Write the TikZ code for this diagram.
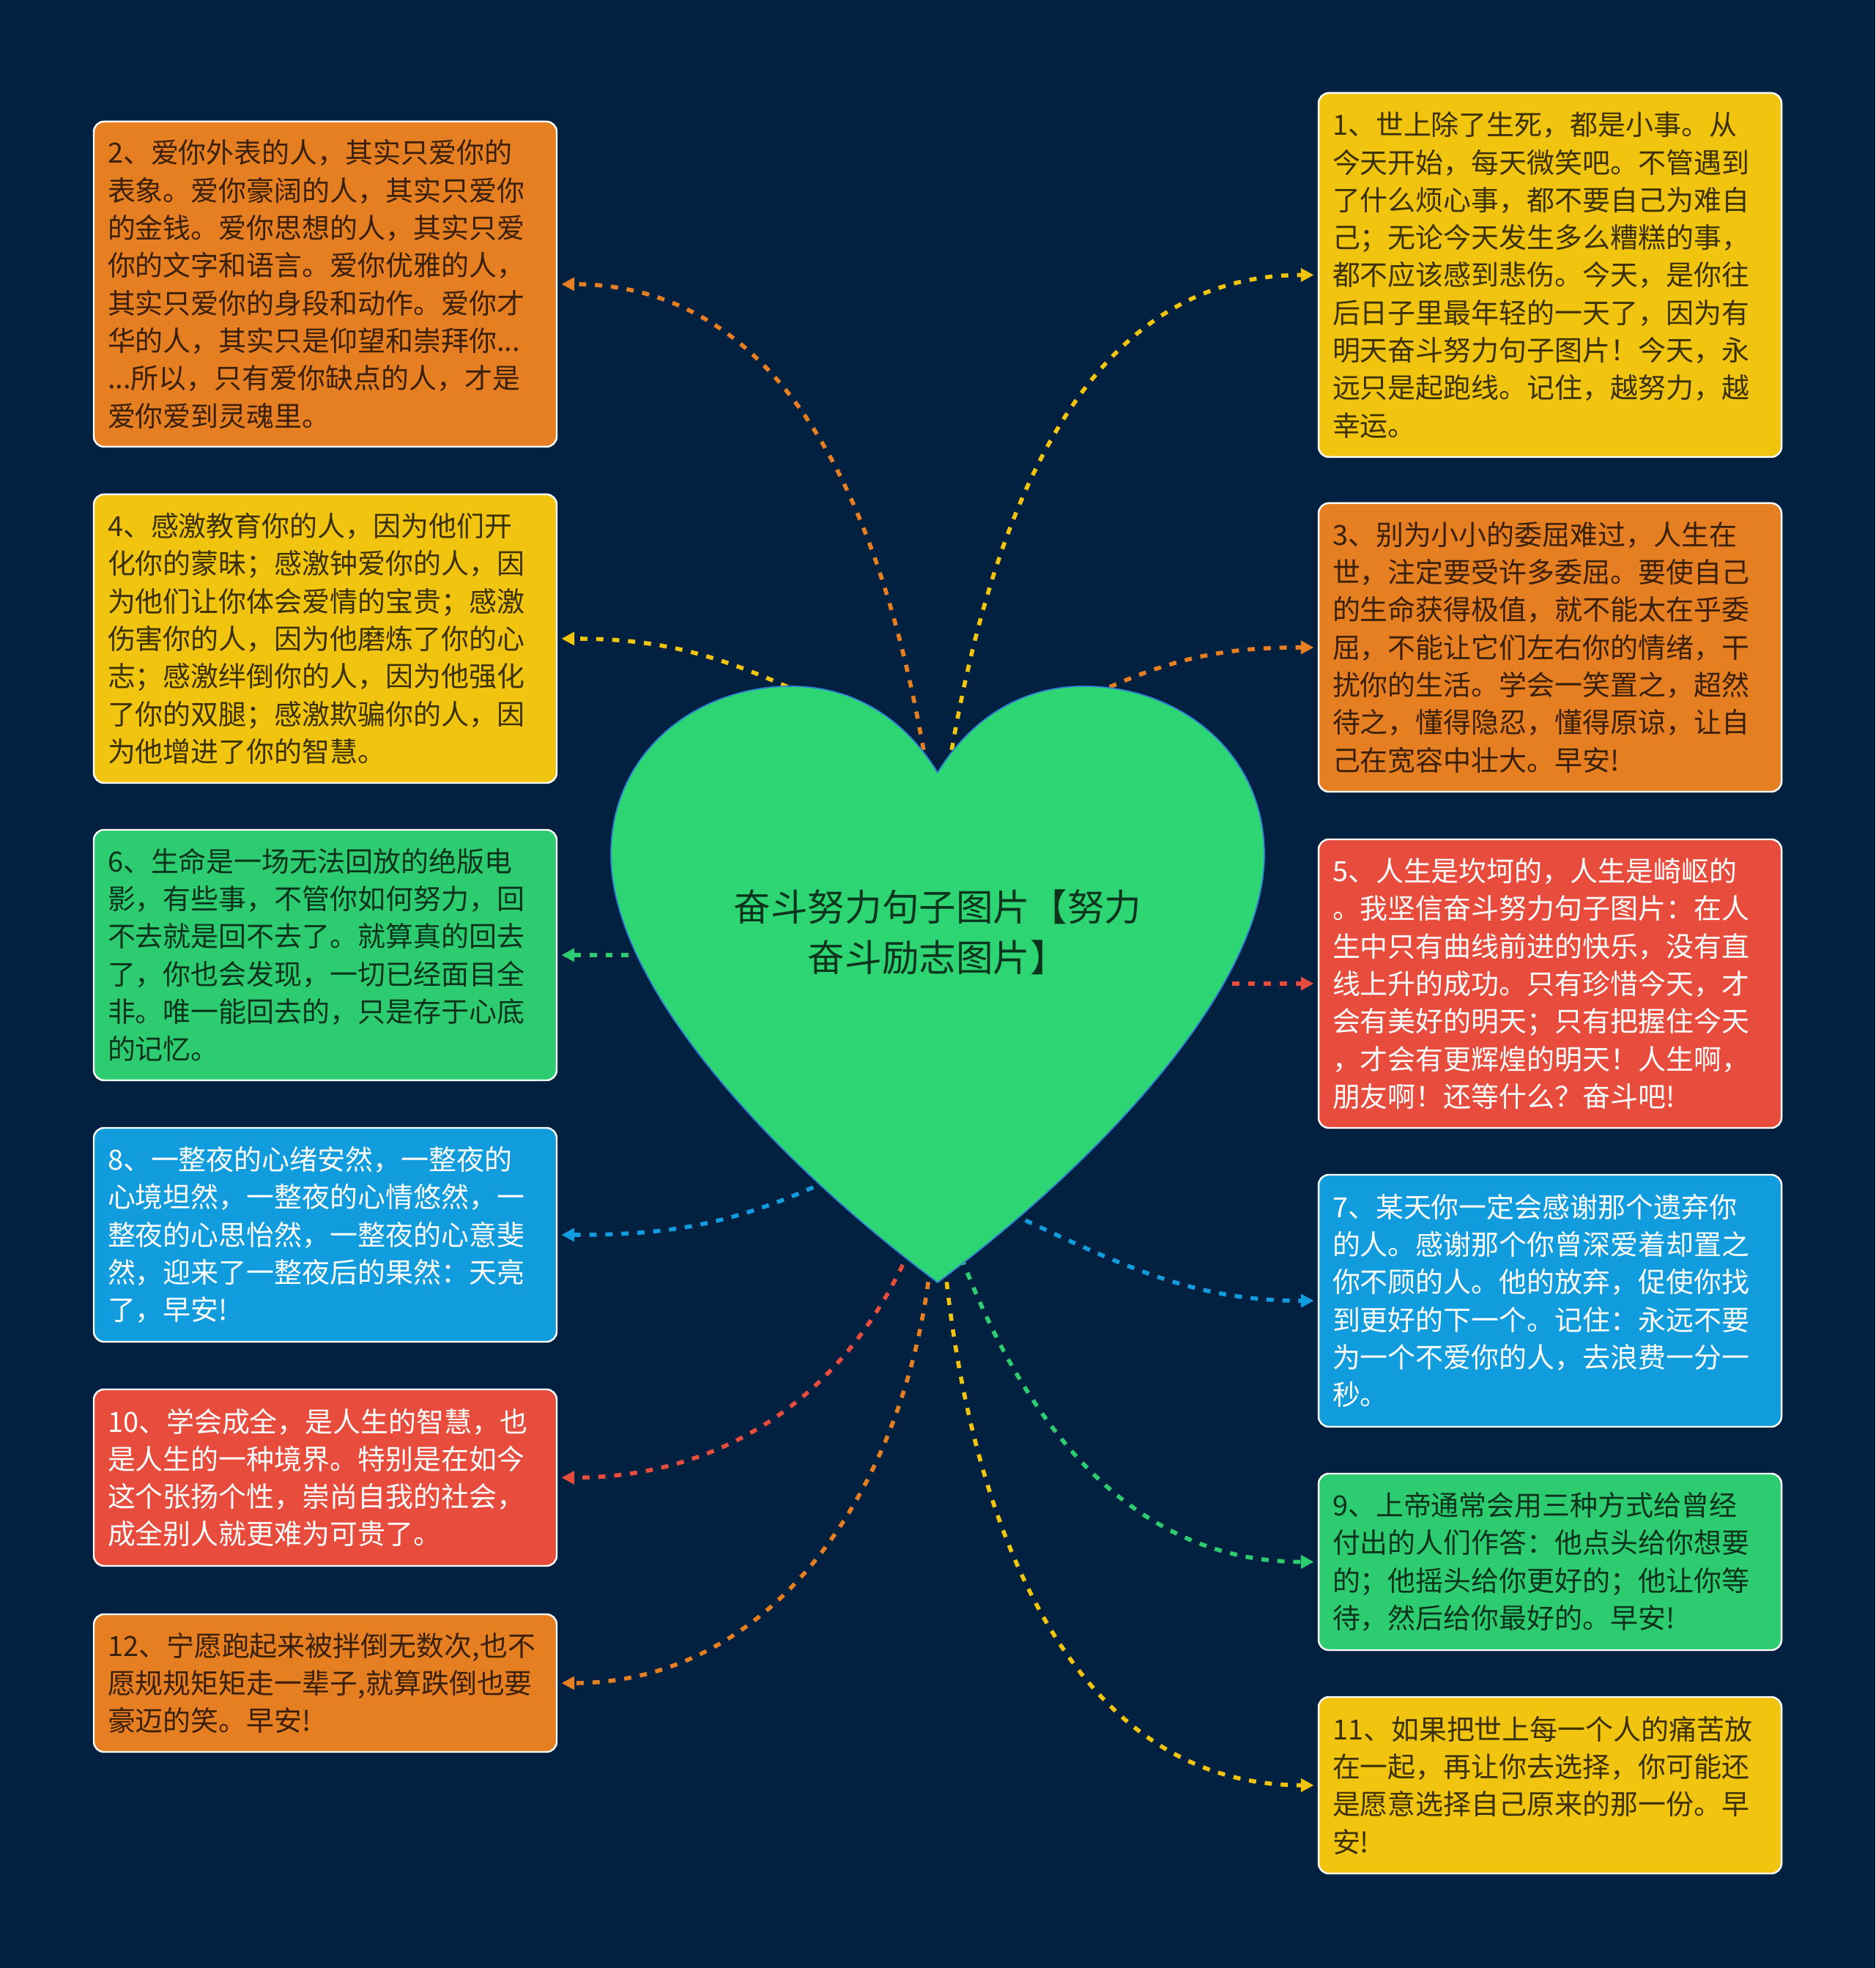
\documentclass[tikz,border=0pt]{standalone}
\usepackage{fontspec}
\usepackage{tikz}
\usetikzlibrary{arrows.meta}
\newfontfamily\cjk{Noto Sans CJK SC}

\definecolor{bgnavy}{RGB}{2,33,64}
\definecolor{cardorange}{RGB}{230,126,34}
\definecolor{cardyellow}{RGB}{241,196,15}
\definecolor{cardgreen}{RGB}{46,204,113}
\definecolor{cardred}{RGB}{231,76,60}
\definecolor{cardblue}{RGB}{16,156,221}
\definecolor{heartgreen}{RGB}{46,213,115}
\definecolor{heartedge}{RGB}{47,127,214}

\begin{document}
\begin{tikzpicture}
    \tikzset{card/.style  = {draw=white, line width=0.7pt, rounded corners=4pt,
        fill=#1, text=black!75!#1,
        inner xsep=0.19cm, text width=5.94cm, align=left,
        font=\cjk\fontsize{10.8pt}{14.6pt}\selectfont},
      link/.style   = {line width=1.6pt, dash pattern=on 2.8pt off 3.4pt,
        -{Triangle[length=5pt,width=5pt]}, shorten >=1.5pt},
      title/.style  = {align=center, text=black!75!heartgreen,
        font=\cjk\fontsize{14.4pt}{19.5pt}\selectfont}}
    
    \def\Lx{4.44};
    \def\Rx{21.16};
    
    % Background.
    \useasboundingbox (0,0) rectangle (25.6,26.87);
    \fill[bgnavy] (0,0) rectangle (25.6,26.87);
    
    % Draw the cards on the left.
    \node[card=cardorange, minimum height=4.44cm] (q2) at (\Lx,22.99)
      {2、爱你外表的人，其实只爱你的\\表象。爱你豪阔的人，其实只爱你\\的金钱。爱你思想的人，其实只爱\\你的文字和语言。爱你优雅的人，\\其实只爱你的身段和动作。爱你才\\华的人，其实只是仰望和崇拜你...\\...所以，只有爱你缺点的人，才是\\爱你爱到灵魂里。};
    \node[card=cardyellow, minimum height=3.94cm] (q4) at (\Lx,18.15)
      {4、感激教育你的人，因为他们开\\化你的蒙昧；感激钟爱你的人，因\\为他们让你体会爱情的宝贵；感激\\伤害你的人，因为他磨炼了你的心\\志；感激绊倒你的人，因为他强化\\了你的双腿；感激欺骗你的人，因\\为他增进了你的智慧。};
    \node[card=cardgreen, minimum height=3.42cm] (q6) at (\Lx,13.83)
      {6、生命是一场无法回放的绝版电\\影，有些事，不管你如何努力，回\\不去就是回不去了。就算真的回去\\了，你也会发现，一切已经面目全\\非。唯一能回去的，只是存于心底\\的记忆。};
    \node[card=cardblue, text=white, minimum height=2.92cm] (q8) at (\Lx,10.01)
      {8、一整夜的心绪安然，一整夜的\\心境坦然，一整夜的心情悠然，一\\整夜的心思怡然，一整夜的心意斐\\然，迎来了一整夜后的果然：天亮\\了，早安!};
    \node[card=cardred, text=white, minimum height=2.41cm] (q10) at (\Lx,6.695)
      {10、学会成全，是人生的智慧，也\\是人生的一种境界。特别是在如今\\这个张扬个性，崇尚自我的社会，\\成全别人就更难为可贵了。};
    \node[card=cardorange, minimum height=1.88cm] (q12) at (\Lx,3.89)
      {12、宁愿跑起来被拌倒无数次,也不\\愿规规矩矩走一辈子,就算跌倒也要\\豪迈的笑。早安!};
    
    % Draw the cards on the right.
    \node[card=cardyellow, minimum height=4.97cm] (q1) at (\Rx,23.115)
      {1、世上除了生死，都是小事。从\\今天开始，每天微笑吧。不管遇到\\了什么烦心事，都不要自己为难自\\己；无论今天发生多么糟糕的事，\\都不应该感到悲伤。今天，是你往\\后日子里最年轻的一天了，因为有\\明天奋斗努力句子图片！今天，永\\远只是起跑线。记住，越努力，越\\幸运。};
    \node[card=cardorange, minimum height=3.94cm] (q3) at (\Rx,18.03)
      {3、别为小小的委屈难过，人生在\\世，注定要受许多委屈。要使自己\\的生命获得极值，就不能太在乎委\\屈，不能让它们左右你的情绪，干\\扰你的生活。学会一笑置之，超然\\待之，懂得隐忍，懂得原谅，让自\\己在宽容中壮大。早安!};
    \node[card=cardred, text=white, minimum height=3.94cm] (q5) at (\Rx,13.44)
      {5、人生是坎坷的，人生是崎岖的\\。我坚信奋斗努力句子图片：在人\\生中只有曲线前进的快乐，没有直\\线上升的成功。只有珍惜今天，才\\会有美好的明天；只有把握住今天\\，才会有更辉煌的明天！人生啊，\\朋友啊！还等什么？奋斗吧!};
    \node[card=cardblue, text=white, minimum height=3.44cm] (q7) at (\Rx,9.11)
      {7、某天你一定会感谢那个遗弃你\\的人。感谢那个你曾深爱着却置之\\你不顾的人。他的放弃，促使你找\\到更好的下一个。记住：永远不要\\为一个不爱你的人，去浪费一分一\\秒。};
    \node[card=cardgreen, minimum height=2.41cm] (q9) at (\Rx,5.545)
      {9、上帝通常会用三种方式给曾经\\付出的人们作答：他点头给你想要\\的；他摇头给你更好的；他让你等\\待，然后给你最好的。早安!};
    \node[card=cardyellow, minimum height=2.41cm] (q11) at (\Rx,2.495)
      {11、如果把世上每一个人的痛苦放\\在一起，再让你去选择，你可能还\\是愿意选择自己原来的那一份。早\\安!};
    
    % Start points, under the heart.
    \coordinate (s2)  at (12.68,16.2);
    \coordinate (s1)  at (12.92,16.2);
    \coordinate (s4)  at (10.95,17.4);
    \coordinate (s3)  at (14.95,17.4);
    \coordinate (s6)  at (8.8,13.83);
    \coordinate (s5)  at (16.6,13.44);
    \coordinate (s8)  at (11.3,10.75);
    \coordinate (s7)  at (13.8,10.3);
    \coordinate (s10) at (12.5,10.0);
    \coordinate (s9)  at (13.05,9.9);
    \coordinate (s12) at (12.72,9.8);
    \coordinate (s11) at (12.88,9.8);
    
    % Draw the connectors.
    \draw[link, cardorange] (s2)  to[out=99, in=0]    (q2.east);
    \draw[link, cardyellow] (s1)  to[out=81, in=180]  (q1.west);
    \draw[link, cardyellow] (s4)  to[out=155, in=0]   (q4.east);
    \draw[link, cardorange] (s3)  to[out=25, in=180]  (q3.west);
    \draw[link, cardgreen]  (s6)  --                  (q6.east);
    \draw[link, cardred]    (s5)  --                  (q5.west);
    \draw[link, cardblue]   (s8)  to[out=205, in=0]   (q8.east);
    \draw[link, cardblue]   (s7)  to[out=-25, in=180] (q7.west);
    \draw[link, cardred]    (s10) to[out=-112, in=0]  (q10.east);
    \draw[link, cardgreen]  (s9)  to[out=-70, in=180] (q9.west);
    \draw[link, cardorange] (s12) to[out=-95, in=0]   (q12.east);
    \draw[link, cardyellow] (s11) to[out=-85, in=180] (q11.west);
    
    % Draw the heart.
    \draw[heartedge, line width=0.5pt, fill=heartgreen]
      (12.8,9.36) .. controls (10.6,11.0) and (8.34,13.4) .. (8.34,15.2)
      .. controls (8.34,16.6) and (9.5,17.5) .. (10.8,17.5)
      .. controls (11.8,17.5) and (12.45,16.9) .. (12.8,16.32)
      .. controls (13.15,16.9) and (13.8,17.5) .. (14.8,17.5)
      .. controls (16.1,17.5) and (17.26,16.6) .. (17.26,15.2)
      .. controls (17.26,13.4) and (15.0,11.0) .. (12.8,9.36) -- cycle;
    \node[title] (title) at (12.8,14.14) {奋斗努力句子图片【努力\\奋斗励志图片】};
  \end{tikzpicture}
\end{document}
